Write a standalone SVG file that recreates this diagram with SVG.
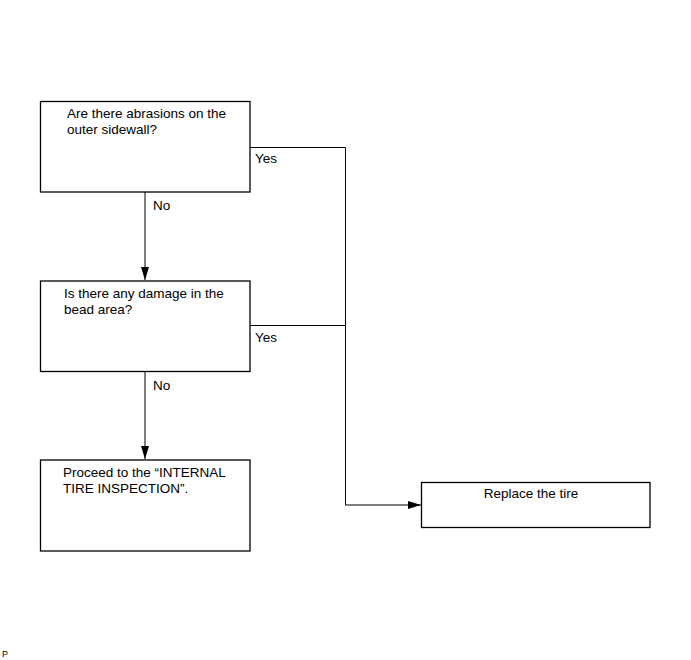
<svg xmlns="http://www.w3.org/2000/svg" width="691" height="660" viewBox="0 0 691 660">
<style>
.box{fill:#fff;stroke:#000;stroke-width:1.3}
.t{font-family:"Liberation Sans",Arial,sans-serif;font-size:13.5px;fill:#000}
.c{fill:none;stroke:#000;stroke-width:1}
</style>
<defs>
<marker id="ah" viewBox="0 0 13 8" refX="13" refY="4" markerWidth="13" markerHeight="8" markerUnits="userSpaceOnUse" orient="auto">
<path d="M0,0 L13,4 L0,8 Z" fill="#000"/>
</marker>
</defs>
<rect width="691" height="660" fill="#fff"/>
<g id="connectors">
<path class="c" d="M145,192 V280" marker-end="url(#ah)"/>
<path class="c" d="M145,372 V459" marker-end="url(#ah)"/>
<path class="c" d="M250,147.5 H345.5 V505 H421" marker-end="url(#ah)"/>
<path class="c" d="M250,325.5 H345.5"/>
<text class="t" x="153" y="210">No</text>
<text class="t" x="153" y="390">No</text>
<text class="t" x="255" y="163">Yes</text>
<text class="t" x="255" y="342">Yes</text>
</g>
<g id="n1">
<rect class="box" x="40.5" y="101.5" width="209.5" height="90.5"/>
<text class="t" x="67" y="118">Are there abrasions on the</text>
<text class="t" x="67" y="134">outer sidewall?</text>
</g>
<g id="n2">
<rect class="box" x="40.5" y="281" width="209.5" height="90.5"/>
<text class="t" x="64" y="298">Is there any damage in the</text>
<text class="t" x="64" y="314">bead area?</text>
</g>
<g id="n3">
<rect class="box" x="40.5" y="460" width="209.5" height="91"/>
<text class="t" x="63" y="477">Proceed to the “INTERNAL</text>
<text class="t" x="63" y="493">TIRE INSPECTION”.</text>
</g>
<g id="n4">
<rect class="box" x="421.5" y="482.5" width="228.5" height="45"/>
<text class="t" x="531" y="498" text-anchor="middle">Replace the tire</text>
</g>
<text class="t" x="2" y="657" style="font-size:9px">P</text>
</svg>
